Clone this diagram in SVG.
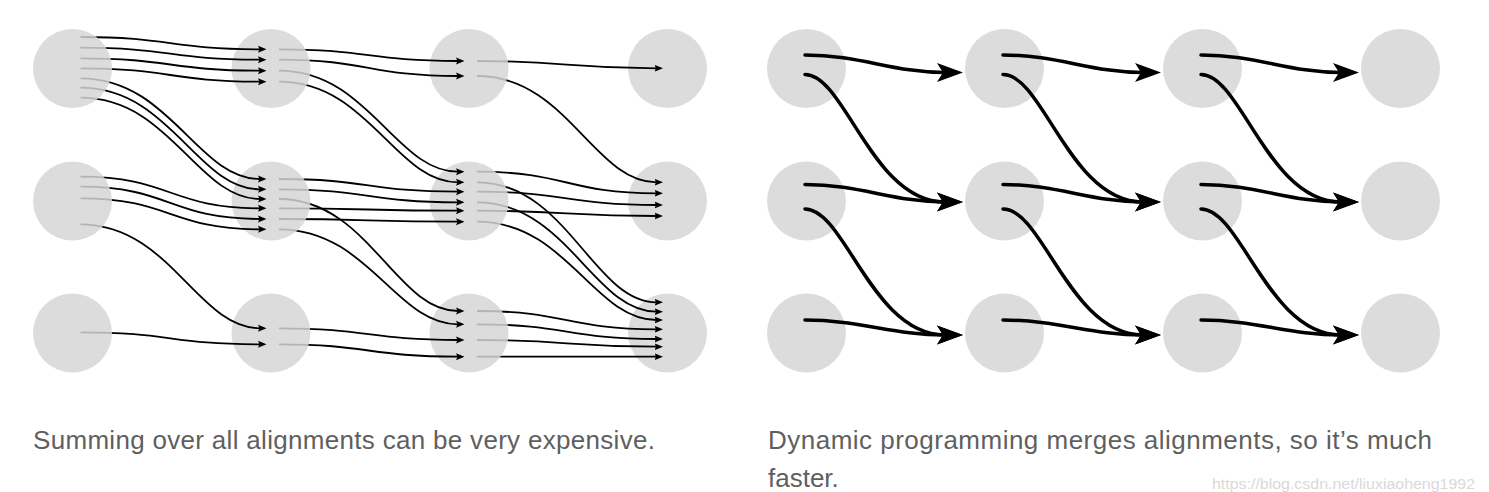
<svg xmlns="http://www.w3.org/2000/svg" width="1489" height="492" viewBox="0 0 1489 492">
<style>
.node{fill:#dcdcdc}
.thin{fill:none;stroke:#000;stroke-width:1.8;marker-end:url(#ah)}
.thick{fill:none;stroke:#000;stroke-width:3.5;stroke-linecap:round;marker-end:url(#AH)}
.cap{font-family:"Liberation Sans",Arial,sans-serif;font-size:26px;fill:#5f5f5f}
.wm{font-family:"Liberation Sans",Arial,sans-serif;font-size:14px;fill:#d9d9d9}
</style>
<defs>
<marker id="ah" markerUnits="userSpaceOnUse" viewBox="0 -5 11 10" markerWidth="11" markerHeight="10" refX="2" refY="0" orient="auto">
<path d="M0,-3.5 L8.5,0 L0,3.5 L1.5,0 Z" fill="#000"/>
</marker>
<marker id="AH" markerUnits="userSpaceOnUse" viewBox="0 -11 30 22" markerWidth="30" markerHeight="22" refX="8" refY="0" orient="auto">
<path d="M0,-9.5 L26,0 L0,9.5 L6,0 Z" fill="#000"/>
</marker>
<mask id="m0" maskUnits="userSpaceOnUse" x="0" y="0" width="1489" height="492" style="mask-type:alpha">
<path fill-rule="evenodd" d="M0,0H1489V492H0Z M33,68.5a39.5,39.5 0 1,0 79,0a39.5,39.5 0 1,0 -79,0Z M33,201a39.5,39.5 0 1,0 79,0a39.5,39.5 0 1,0 -79,0Z M33,333a39.5,39.5 0 1,0 79,0a39.5,39.5 0 1,0 -79,0Z"/>
<circle cx="72.5" cy="68.5" r="39.5" fill-opacity="0.18"/><circle cx="72.5" cy="201" r="39.5" fill-opacity="0.18"/><circle cx="72.5" cy="333" r="39.5" fill-opacity="0.18"/>
</mask>
<mask id="m1" maskUnits="userSpaceOnUse" x="0" y="0" width="1489" height="492" style="mask-type:alpha">
<path fill-rule="evenodd" d="M0,0H1489V492H0Z M231.5,68.5a39.5,39.5 0 1,0 79,0a39.5,39.5 0 1,0 -79,0Z M231.5,201a39.5,39.5 0 1,0 79,0a39.5,39.5 0 1,0 -79,0Z M231.5,333a39.5,39.5 0 1,0 79,0a39.5,39.5 0 1,0 -79,0Z"/>
<circle cx="271" cy="68.5" r="39.5" fill-opacity="0.18"/><circle cx="271" cy="201" r="39.5" fill-opacity="0.18"/><circle cx="271" cy="333" r="39.5" fill-opacity="0.18"/>
</mask>
<mask id="m2" maskUnits="userSpaceOnUse" x="0" y="0" width="1489" height="492" style="mask-type:alpha">
<path fill-rule="evenodd" d="M0,0H1489V492H0Z M429.5,68.5a39.5,39.5 0 1,0 79,0a39.5,39.5 0 1,0 -79,0Z M429.5,201a39.5,39.5 0 1,0 79,0a39.5,39.5 0 1,0 -79,0Z M429.5,333a39.5,39.5 0 1,0 79,0a39.5,39.5 0 1,0 -79,0Z"/>
<circle cx="469" cy="68.5" r="39.5" fill-opacity="0.18"/><circle cx="469" cy="201" r="39.5" fill-opacity="0.18"/><circle cx="469" cy="333" r="39.5" fill-opacity="0.18"/>
</mask>
</defs>
<rect width="1489" height="492" fill="#fff"/>

<!-- left lattice nodes -->
<g id="L00"><circle class="node" cx="72.5" cy="68.5" r="39.5"/></g>
<g id="L01"><circle class="node" cx="72.5" cy="201" r="39.5"/></g>
<g id="L02"><circle class="node" cx="72.5" cy="333" r="39.5"/></g>
<g id="L10"><circle class="node" cx="271" cy="68.5" r="39.5"/></g>
<g id="L11"><circle class="node" cx="271" cy="201" r="39.5"/></g>
<g id="L12"><circle class="node" cx="271" cy="333" r="39.5"/></g>
<g id="L20"><circle class="node" cx="469" cy="68.5" r="39.5"/></g>
<g id="L21"><circle class="node" cx="469" cy="201" r="39.5"/></g>
<g id="L22"><circle class="node" cx="469" cy="333" r="39.5"/></g>
<g id="L30"><circle class="node" cx="667.5" cy="68.5" r="39.5"/></g>
<g id="L31"><circle class="node" cx="667.5" cy="201" r="39.5"/></g>
<g id="L32"><circle class="node" cx="667.5" cy="333" r="39.5"/></g>

<!-- right lattice nodes -->
<g id="R00"><circle class="node" cx="806.5" cy="68.5" r="39.5"/></g>
<g id="R01"><circle class="node" cx="806.5" cy="201" r="39.5"/></g>
<g id="R02"><circle class="node" cx="806.5" cy="333" r="39.5"/></g>
<g id="R10"><circle class="node" cx="1004.5" cy="68.5" r="39.5"/></g>
<g id="R11"><circle class="node" cx="1004.5" cy="201" r="39.5"/></g>
<g id="R12"><circle class="node" cx="1004.5" cy="333" r="39.5"/></g>
<g id="R20"><circle class="node" cx="1202.5" cy="68.5" r="39.5"/></g>
<g id="R21"><circle class="node" cx="1202.5" cy="201" r="39.5"/></g>
<g id="R22"><circle class="node" cx="1202.5" cy="333" r="39.5"/></g>
<g id="R30"><circle class="node" cx="1400.5" cy="68.5" r="39.5"/></g>
<g id="R31"><circle class="node" cx="1400.5" cy="201" r="39.5"/></g>
<g id="R32"><circle class="node" cx="1400.5" cy="333" r="39.5"/></g>

<g id="connectors">
<g id="left-stage0" mask="url(#m0)">
<path class="thin" d="M80.5,37 C170.25,37 170.25,49.3 260,49.3"/>
<path class="thin" d="M80.5,47.7 C170.25,47.7 170.25,59.7 260,59.7"/>
<path class="thin" d="M80.5,58.3 C170.25,58.3 170.25,70.7 260,70.7"/>
<path class="thin" d="M80.5,68.3 C170.25,68.3 170.25,81.7 260,81.7"/>
<path class="thin" d="M80.5,78.3 C170.25,78.3 197.2,179 260,179"/>
<path class="thin" d="M80.5,87.7 C170.25,87.7 197.2,189.3 260,189.3"/>
<path class="thin" d="M80.5,97.7 C170.25,97.7 197.2,199 260,199"/>
<path class="thin" d="M80.5,176.7 C170.25,176.7 170.25,208.3 260,208.3"/>
<path class="thin" d="M80.5,186.7 C170.25,186.7 170.25,219 260,219"/>
<path class="thin" d="M80.5,198.3 C170.25,198.3 170.25,229.3 260,229.3"/>
<path class="thin" d="M80.5,224.3 C170.25,224.3 197.2,328.3 260,328.3"/>
<path class="thin" d="M80.5,332.3 C170.25,332.3 170.25,344.3 260,344.3"/>
</g>
<g id="left-stage1" mask="url(#m1)">
<path class="thin" d="M279,49.3 C368.5,49.3 368.5,61 458,61"/>
<path class="thin" d="M279,59.7 C368.5,59.7 368.5,76 458,76"/>
<path class="thin" d="M279,70.7 C368.5,70.7 395.4,171.7 458,171.7"/>
<path class="thin" d="M279,81.7 C368.5,81.7 395.4,182.3 458,182.3"/>
<path class="thin" d="M279,179 C368.5,179 368.5,191.7 458,191.7"/>
<path class="thin" d="M279,189.3 C368.5,189.3 368.5,202.3 458,202.3"/>
<path class="thin" d="M279,208.3 C368.5,208.3 368.5,210.7 458,210.7"/>
<path class="thin" d="M279,219 C368.5,219 368.5,221.7 458,221.7"/>
<path class="thin" d="M279,199 C368.5,199 395.4,311 458,311"/>
<path class="thin" d="M279,229.3 C368.5,229.3 395.4,324.3 458,324.3"/>
<path class="thin" d="M279,328.3 C368.5,328.3 368.5,340 458,340"/>
<path class="thin" d="M279,344.3 C368.5,344.3 368.5,356.7 458,356.7"/>
</g>
<g id="left-stage2" mask="url(#m2)">
<path class="thin" d="M477,61 C566.75,61 566.75,68.3 656.5,68.3"/>
<path class="thin" d="M477,76 C566.75,76 593.7,182.3 656.5,182.3"/>
<path class="thin" d="M477,171.7 C566.75,171.7 566.75,193.3 656.5,193.3"/>
<path class="thin" d="M477,191.7 C566.75,191.7 566.75,205 656.5,205"/>
<path class="thin" d="M477,210.7 C566.75,210.7 566.75,216 656.5,216"/>
<path class="thin" d="M477,182.3 C566.75,182.3 593.7,302.3 656.5,302.3"/>
<path class="thin" d="M477,202.3 C566.75,202.3 593.7,311.7 656.5,311.7"/>
<path class="thin" d="M477,221.7 C566.75,221.7 593.7,320 656.5,320"/>
<path class="thin" d="M477,311 C566.75,311 566.75,329.3 656.5,329.3"/>
<path class="thin" d="M477,324.3 C566.75,324.3 566.75,339 656.5,339"/>
<path class="thin" d="M477,340 C566.75,340 566.75,346.7 656.5,346.7"/>
<path class="thin" d="M477,356.7 C566.75,356.7 566.75,356.7 656.5,356.7"/>
</g>
<g id="right-arrows">
<path class="thick" d="M805,55 C860,55 893,72.5 945,72.5"/>
<path class="thick" d="M805,74.5 C845,74.5 872,202 945,202"/>
<path class="thick" d="M805,184.5 C860,184.5 893,202 945,202"/>
<path class="thick" d="M805,209 C845,209 872,335 945,335"/>
<path class="thick" d="M805,320 C860,320 893,335 945,335"/>
<path class="thick" d="M1003,55 C1058,55 1091,72.5 1143,72.5"/>
<path class="thick" d="M1003,74.5 C1043,74.5 1070,202 1143,202"/>
<path class="thick" d="M1003,184.5 C1058,184.5 1091,202 1143,202"/>
<path class="thick" d="M1003,209 C1043,209 1070,335 1143,335"/>
<path class="thick" d="M1003,320 C1058,320 1091,335 1143,335"/>
<path class="thick" d="M1201,55 C1256,55 1289,72.5 1341,72.5"/>
<path class="thick" d="M1201,74.5 C1241,74.5 1268,202 1341,202"/>
<path class="thick" d="M1201,184.5 C1256,184.5 1289,202 1341,202"/>
<path class="thick" d="M1201,209 C1241,209 1268,335 1341,335"/>
<path class="thick" d="M1201,320 C1256,320 1289,335 1341,335"/>
</g>
</g>

<text class="cap" x="33" y="449" textLength="622" lengthAdjust="spacing">Summing over all alignments can be very expensive.</text>
<text class="cap" x="768" y="449" textLength="664" lengthAdjust="spacing">Dynamic programming merges alignments, so it’s much</text>
<text class="cap" x="768" y="487">faster.</text>
<text class="wm" x="1212" y="489" textLength="263" lengthAdjust="spacingAndGlyphs">https://blog.csdn.net/liuxiaoheng1992</text>
</svg>
